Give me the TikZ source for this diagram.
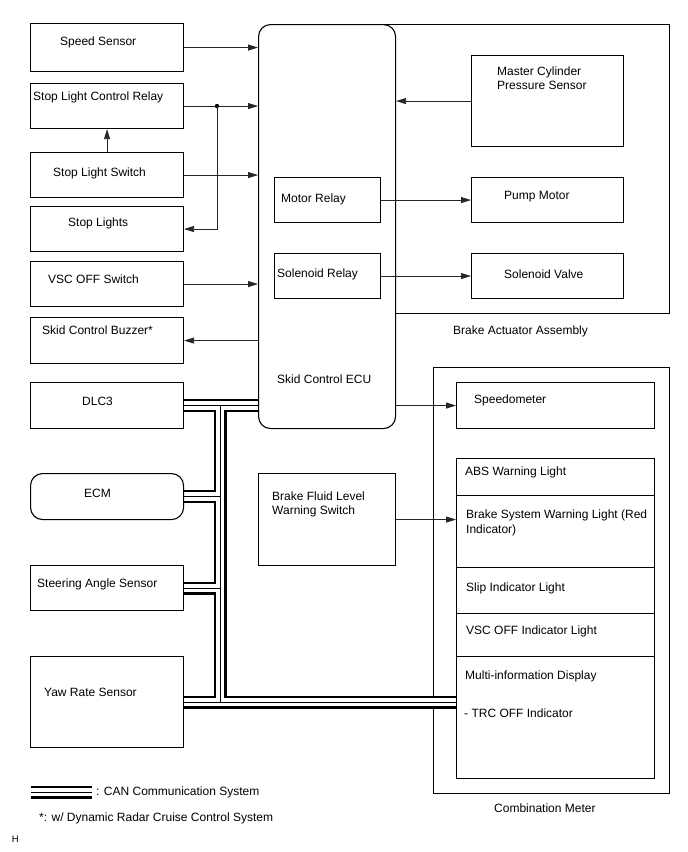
\documentclass[tikz,border=0pt]{standalone}
\usepackage{fontspec}
\setmainfont{Liberation Sans}
\usetikzlibrary{arrows.meta,calc}
\pgfdeclarelayer{background}
\pgfsetlayers{background,main}
\begin{document}
\begin{tikzpicture}[x=1pt,y=-1pt,
  box/.style={draw=black, line width=1.1pt, rectangle, inner sep=0pt, anchor=north west},
  rbox/.style={box, rounded corners=12pt},
  frame/.style={draw=black, line width=1.1pt},
  txt/.style={anchor=base west, inner sep=0pt, font=\fontsize{12}{14}\selectfont},
  arr/.style={draw=black!85, line width=0.75pt, -{Triangle[length=10pt,width=6pt]}},
  ]
\useasboundingbox (0,0) rectangle (688,852);

% meter frame (under the bus)
\begin{pgfonlayer}{background}
\node[box, minimum width=236pt, minimum height=426pt] (meter) at (433,367) {};
\end{pgfonlayer}

% left column
\node[box, minimum width=153pt, minimum height=48pt] (speed) at (30,23) {};
\node[box, minimum width=153pt, minimum height=45pt] (slcr) at (30,83) {};
\node[box, minimum width=153pt, minimum height=45pt] (sls) at (30,152) {};
\node[box, minimum width=153pt, minimum height=45pt] (sl) at (30,206) {};
\node[box, minimum width=153pt, minimum height=45pt] (vsc) at (30,261) {};
\node[box, minimum width=153pt, minimum height=46pt] (buzz) at (30,317) {};
\node[box, minimum width=153pt, minimum height=46pt] (dlc) at (30,382) {};
\node[rbox, minimum width=153pt, minimum height=46pt] (ecm) at (30,473) {};
\node[box, minimum width=153pt, minimum height=45pt] (steer) at (30,565) {};
\node[box, minimum width=153pt, minimum height=91pt] (yaw) at (30,656) {};

% meter inner boxes
\node[box, minimum width=198pt, minimum height=46pt] (speedo) at (456,382) {};
\node[box, minimum width=198pt, minimum height=37pt] (abs) at (456,458) {};
\node[box, minimum width=198pt, minimum height=72pt] (bswl) at (456,495) {};
\node[box, minimum width=198pt, minimum height=46pt] (slip) at (456,567) {};
\node[box, minimum width=198pt, minimum height=43pt] (vscl) at (456,613) {};
\node[box, minimum width=198pt, minimum height=122pt] (mid) at (456,656) {};

% ECU column
\node[rbox, minimum width=137pt, minimum height=404pt] (ecu) at (258,24) {};
\node[box, minimum width=106pt, minimum height=45pt] (motor) at (274,177) {};
\node[box, minimum width=106pt, minimum height=45pt] (solr) at (274,253) {};
\node[box, minimum width=137pt, minimum height=92pt] (bfl) at (258,473) {};

% brake actuator assembly frame (its left side is the ECU)
\coordinate (aNW) at (383.5,24.55);
\coordinate (aNE) at (669.55,24.55);
\coordinate (aSE) at (669.55,313.55);
\coordinate (aSW) at (395.55,313.55);
\draw[frame] (aNW) -- (aNE) -- (aSE) -- (aSW);
\node[box, minimum width=152pt, minimum height=91pt] (mcps) at (471,55) {};
\node[box, minimum width=152pt, minimum height=45pt] (pump) at (471,177) {};
\node[box, minimum width=152pt, minimum height=45pt] (valve) at (471,253) {};

% CAN bus
\coordinate (bx) at (220,0);
\coordinate (lg1) at (31,792);
\coordinate (lg2) at (92,792);
\begin{pgfonlayer}{background}
\foreach \lw/\lc in {13pt/black,8.6pt/white,1pt/black}{
  \draw[line width=\lw, draw=\lc]
     (dlc.east) -- (dlc.east -| ecu.west)
     (dlc.east -| bx) -- (yaw.east -| bx)
     (ecm.east) -- (ecm.east -| bx)
     (steer.east) -- (steer.east -| bx)
     (yaw.east) -- (yaw.east -| mid.west)
     (lg1) -- (lg2);
}
\end{pgfonlayer}

% arrows
\draw[arr] (speed.east) -- (speed.east -| ecu.west);
\coordinate (jx) at (217,0);
\draw[arr] (slcr.east) -- (slcr.east -| ecu.west);
\fill (slcr.east -| jx) circle (2.2pt);
\draw[arr] (slcr.east -| jx) |- (sl.east);
\draw[arr] (sls.east) -- (sls.east -| ecu.west);
\draw[arr] (sls.north) -- (slcr.south);
\draw[arr] (vsc.east) -- (vsc.east -| ecu.west);
\draw[arr] (buzz.east -| ecu.west) -- (buzz.east);
\draw[arr] (mcps.west) -- (mcps.west -| ecu.east);
\draw[arr] (motor.east) -- (motor.east -| pump.west);
\draw[arr] (solr.east) -- (solr.east -| valve.west);
\draw[arr] (speedo.west -| ecu.east) -- (speedo.west);
\draw[arr] (bfl.east) -- (bfl.east -| bswl.west);

% texts
\node[txt] (t1) at (60,45.5) {Speed Sensor};
\node[txt] (t2) at (33,100.5) {Stop Light Control Relay};
\node[txt] (t3) at (53,176.5) {Stop Light Switch};
\node[txt] (t4) at (68,226.5) {Stop Lights};
\node[txt] (t5) at (48,283.3) {VSC OFF Switch};
\node[txt] (t6) at (42,334.3) {Skid Control Buzzer*};
\node[txt] (t7) at (82,405.7) {DLC3};
\node[txt] (t8) at (84,497) {ECM};
\node[txt] (t9) at (37,587) {Steering Angle Sensor};
\node[txt] (t10) at (44,696) {Yaw Rate Sensor};
\node[txt] (t11) at (281,202.3) {Motor Relay};
\node[txt] (t12) at (277,277.3) {Solenoid Relay};
\node[txt] (t13) at (277,383.3) {Skid Control ECU};
\node[txt] (t14) at (272,500) {Brake Fluid Level};
\node[txt] (t15) at (272,514.3) {Warning Switch};
\node[txt] (t16) at (497,75.3) {Master Cylinder};
\node[txt] (t17) at (497,89.3) {Pressure Sensor};
\node[txt] (t18) at (504,199.3) {Pump Motor};
\node[txt] (t19) at (504,278.3) {Solenoid Valve};
\node[txt] (t20) at (453,334.3) {Brake Actuator Assembly};
\node[txt] (t21) at (474,403.7) {Speedometer};
\node[txt] (t22) at (465,475.3) {ABS Warning Light};
\node[txt] (t23) at (466,518.7) {Brake System Warning Light (Red};
\node[txt] (t24) at (466,533.3) {Indicator)};
\node[txt] (t25) at (466,591) {Slip Indicator Light};
\node[txt] (t26) at (466,634) {VSC OFF Indicator Light};
\node[txt] (t27) at (465,679.3) {Multi-information Display};
\node[txt] (t28) at (464,717) {- TRC OFF Indicator};
\node[txt] (t29) at (494,812.7) {Combination Meter};
\node[txt] (t30) at (96,795.3) {: CAN Communication System};
\node[txt] (t31) at (39,821) {*: w/ Dynamic Radar Cruise Control System};
\node[txt, font=\fontsize{9.5}{11}\selectfont] (t32) at (11.7,842.3) {H};
\end{tikzpicture}
\end{document}
